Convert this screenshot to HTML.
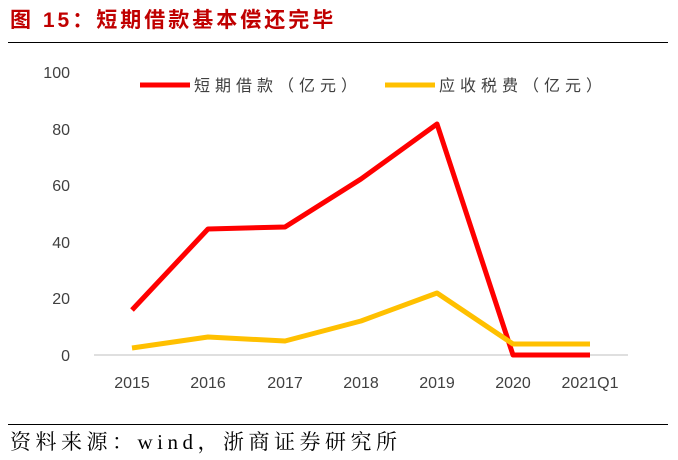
<!DOCTYPE html>
<html><head><meta charset="utf-8"><style>
body{margin:0;width:678px;height:460px;background:#fff;overflow:hidden;position:relative;font-family:"Liberation Sans","Noto Sans CJK SC",sans-serif}
.t{position:absolute;left:10px;top:4px;font-size:21px;letter-spacing:3px;font-weight:bold;color:#c00000;font-family:"Liberation Sans","Noto Sans CJK SC",sans-serif}
.s{position:absolute;left:10px;top:426px;font-size:21px;letter-spacing:4.5px;color:#000;font-family:"Liberation Serif","Noto Serif CJK SC",serif}
</style></head><body>
<div class="t">图 15：短期借款基本偿还完毕</div>
<div style="position:absolute;left:8px;top:42px;width:660px;height:1px;background:#000"></div>
<div style="position:absolute;left:8px;top:424px;width:660px;height:1px;background:#000"></div>
<div class="s">资料来源：wind，浙商证券研究所</div>
<svg width="678" height="460" style="position:absolute;left:0;top:0" font-family="Liberation Sans, Noto Sans CJK SC, sans-serif">
<g font-size="16" fill="#404040" text-anchor="end">
<text x="70" y="78">100</text><text x="70" y="135">80</text><text x="70" y="191">60</text><text x="70" y="248">40</text><text x="70" y="304">20</text><text x="70" y="361">0</text>
</g>
<line x1="94" y1="355" x2="628" y2="355" stroke="#bfbfbf" stroke-width="1"/>
<g font-size="16" fill="#404040" text-anchor="middle">
<text x="132" y="388">2015</text><text x="208" y="388">2016</text><text x="285" y="388">2017</text><text x="361" y="388">2018</text><text x="437" y="388">2019</text><text x="513" y="388">2020</text><text x="590" y="388">2021Q1</text>
</g>
<polyline fill="none" stroke="#ff0000" stroke-width="5" stroke-linejoin="round" points="132,310 208,229 285,227 361,179 437,124 513,355 590,355"/>
<polyline fill="none" stroke="#ffc000" stroke-width="5" stroke-linejoin="round" points="132,348 208,337 285,341 361,321 437,293 513,344 590,344"/>
<line x1="140" y1="85" x2="190" y2="85" stroke="#ff0000" stroke-width="5"/>
<text x="194" y="91" font-size="16" fill="#404040" letter-spacing="5">短期借款（亿元）</text>
<line x1="385" y1="85" x2="435" y2="85" stroke="#ffc000" stroke-width="5"/>
<text x="439" y="91" font-size="16" fill="#404040" letter-spacing="5">应收税费（亿元）</text>
</svg>
</body></html>
